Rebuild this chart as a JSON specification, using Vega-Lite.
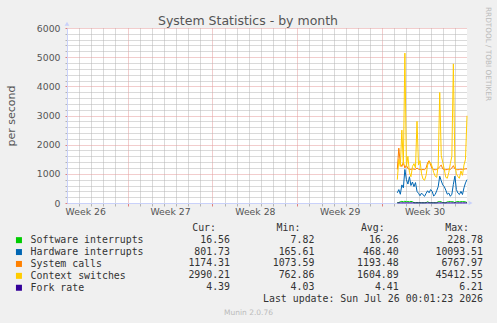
{
  "$schema": "https://vega.github.io/schema/vega-lite/v6.json",
  "width": 400,
  "height": 175,
  "autosize": {"type": "none"},
  "padding": {"left": 67, "top": 28, "right": 30, "bottom": 120},
  "background": "#F0F0F0",
  "title": {
    "text": "System Statistics - by month",
    "font": "DejaVu Sans",
    "fontSize": 12.5,
    "fontWeight": "normal",
    "color": "#555555",
    "anchor": "middle",
    "frame": "group",
    "dx": -19,
    "baseline": "alphabetic",
    "offset": -30.5
  },
  "config": {
    "font": "DejaVu Sans",
    "view": {"fill": "#FFFFFF", "stroke": null}
  },
  "layer": [
    {
      "data": {
        "values": [
          {"d": 22.25, "Software interrupts": 12, "Hardware interrupts": 350, "System calls": 1150, "Context switches": 800, "Fork rate": 4.4},
          {"d": 22.375, "Software interrupts": 15, "Hardware interrupts": 460, "System calls": 1880, "Context switches": 1500, "Fork rate": 4.5},
          {"d": 22.5, "Software interrupts": 45, "Hardware interrupts": 300, "System calls": 1350, "Context switches": 1250, "Fork rate": 4.4},
          {"d": 22.625, "Software interrupts": 55, "Hardware interrupts": 620, "System calls": 1250, "Context switches": 2500, "Fork rate": 4.6},
          {"d": 22.75, "Software interrupts": 40, "Hardware interrupts": 520, "System calls": 1400, "Context switches": 1300, "Fork rate": 4.5},
          {"d": 22.875, "Software interrupts": 60, "Hardware interrupts": 1150, "System calls": 1200, "Context switches": 5140, "Fork rate": 4.8},
          {"d": 23, "Software interrupts": 45, "Hardware interrupts": 800, "System calls": 1300, "Context switches": 1250, "Fork rate": 4.5},
          {"d": 23.125, "Software interrupts": 50, "Hardware interrupts": 650, "System calls": 1180, "Context switches": 1600, "Fork rate": 4.4},
          {"d": 23.25, "Software interrupts": 40, "Hardware interrupts": 900, "System calls": 1160, "Context switches": 1050, "Fork rate": 4.4},
          {"d": 23.375, "Software interrupts": 55, "Hardware interrupts": 600, "System calls": 1150, "Context switches": 900, "Fork rate": 4.3},
          {"d": 23.5, "Software interrupts": 45, "Hardware interrupts": 720, "System calls": 1170, "Context switches": 1250, "Fork rate": 4.4},
          {"d": 23.625, "Software interrupts": 12, "Hardware interrupts": 560, "System calls": 1160, "Context switches": 1350, "Fork rate": 4.3},
          {"d": 23.75, "Software interrupts": 10, "Hardware interrupts": 700, "System calls": 1150, "Context switches": 1200, "Fork rate": 4.3},
          {"d": 23.875, "Software interrupts": 12, "Hardware interrupts": 400, "System calls": 1200, "Context switches": 2800, "Fork rate": 4.5},
          {"d": 24, "Software interrupts": 10, "Hardware interrupts": 330, "System calls": 1160, "Context switches": 1300, "Fork rate": 4.3},
          {"d": 24.125, "Software interrupts": 9, "Hardware interrupts": 250, "System calls": 1150, "Context switches": 1450, "Fork rate": 4.2},
          {"d": 24.25, "Software interrupts": 10, "Hardware interrupts": 340, "System calls": 1140, "Context switches": 1000, "Fork rate": 4.2},
          {"d": 24.375, "Software interrupts": 8, "Hardware interrupts": 280, "System calls": 1150, "Context switches": 820, "Fork rate": 4.1},
          {"d": 24.5, "Software interrupts": 9, "Hardware interrupts": 230, "System calls": 1140, "Context switches": 780, "Fork rate": 4.1},
          {"d": 24.625, "Software interrupts": 12, "Hardware interrupts": 330, "System calls": 1200, "Context switches": 950, "Fork rate": 4.2},
          {"d": 24.75, "Software interrupts": 45, "Hardware interrupts": 420, "System calls": 1380, "Context switches": 1300, "Fork rate": 4.4},
          {"d": 24.875, "Software interrupts": 14, "Hardware interrupts": 350, "System calls": 1450, "Context switches": 1420, "Fork rate": 4.5},
          {"d": 25, "Software interrupts": 10, "Hardware interrupts": 460, "System calls": 1300, "Context switches": 1380, "Fork rate": 4.4},
          {"d": 25.125, "Software interrupts": 9, "Hardware interrupts": 400, "System calls": 1180, "Context switches": 1250, "Fork rate": 4.3},
          {"d": 25.25, "Software interrupts": 10, "Hardware interrupts": 240, "System calls": 1150, "Context switches": 1050, "Fork rate": 4.2},
          {"d": 25.375, "Software interrupts": 8, "Hardware interrupts": 290, "System calls": 1140, "Context switches": 920, "Fork rate": 4.1},
          {"d": 25.5, "Software interrupts": 11, "Hardware interrupts": 420, "System calls": 1150, "Context switches": 880, "Fork rate": 4.2},
          {"d": 25.625, "Software interrupts": 45, "Hardware interrupts": 560, "System calls": 1180, "Context switches": 1300, "Fork rate": 4.4},
          {"d": 25.75, "Software interrupts": 50, "Hardware interrupts": 920, "System calls": 1250, "Context switches": 3790, "Fork rate": 4.6},
          {"d": 25.875, "Software interrupts": 40, "Hardware interrupts": 760, "System calls": 1300, "Context switches": 1630, "Fork rate": 4.5},
          {"d": 26, "Software interrupts": 12, "Hardware interrupts": 620, "System calls": 1170, "Context switches": 1400, "Fork rate": 4.4},
          {"d": 26.125, "Software interrupts": 10, "Hardware interrupts": 560, "System calls": 1150, "Context switches": 1150, "Fork rate": 4.3},
          {"d": 26.25, "Software interrupts": 9, "Hardware interrupts": 440, "System calls": 1140, "Context switches": 880, "Fork rate": 4.2},
          {"d": 26.375, "Software interrupts": 40, "Hardware interrupts": 300, "System calls": 1150, "Context switches": 850, "Fork rate": 4.3},
          {"d": 26.5, "Software interrupts": 45, "Hardware interrupts": 340, "System calls": 1160, "Context switches": 1050, "Fork rate": 4.3},
          {"d": 26.625, "Software interrupts": 50, "Hardware interrupts": 230, "System calls": 1150, "Context switches": 1350, "Fork rate": 4.3},
          {"d": 26.75, "Software interrupts": 45, "Hardware interrupts": 300, "System calls": 1200, "Context switches": 1600, "Fork rate": 4.4},
          {"d": 26.875, "Software interrupts": 40, "Hardware interrupts": 640, "System calls": 1280, "Context switches": 4770, "Fork rate": 4.6},
          {"d": 27, "Software interrupts": 12, "Hardware interrupts": 920, "System calls": 1170, "Context switches": 1350, "Fork rate": 4.5},
          {"d": 27.125, "Software interrupts": 45, "Hardware interrupts": 460, "System calls": 1150, "Context switches": 1000, "Fork rate": 4.4},
          {"d": 27.25, "Software interrupts": 50, "Hardware interrupts": 340, "System calls": 1140, "Context switches": 900, "Fork rate": 4.3},
          {"d": 27.375, "Software interrupts": 40, "Hardware interrupts": 290, "System calls": 1150, "Context switches": 850, "Fork rate": 4.3},
          {"d": 27.5, "Software interrupts": 45, "Hardware interrupts": 400, "System calls": 1160, "Context switches": 1100, "Fork rate": 4.3},
          {"d": 27.625, "Software interrupts": 50, "Hardware interrupts": 290, "System calls": 1150, "Context switches": 950, "Fork rate": 4.3},
          {"d": 27.75, "Software interrupts": 45, "Hardware interrupts": 520, "System calls": 1160, "Context switches": 1300, "Fork rate": 4.4},
          {"d": 27.875, "Software interrupts": 40, "Hardware interrupts": 690, "System calls": 1170, "Context switches": 1500, "Fork rate": 4.4},
          {"d": 28, "Software interrupts": 16.56, "Hardware interrupts": 801.73, "System calls": 1174.31, "Context switches": 2990.21, "Fork rate": 4.39}
        ]
      },
      "transform": [
        {"fold": ["Software interrupts", "Hardware interrupts", "System calls", "Context switches", "Fork rate"], "as": ["series", "value"]}
      ],
      "mark": {"type": "line", "strokeWidth": 1, "clip": false},
      "encoding": {
        "x": {
          "field": "d",
          "type": "quantitative",
          "scale": {"domain": [-5, 28], "nice": false, "zero": false},
          "axis": {
            "values": [-4, -3.5, -3, -2, -1, 0, 1, 2, 3, 3.5, 4, 5, 6, 7, 8, 9, 10, 10.5, 11, 12, 13, 14, 15, 16, 17, 17.5, 18, 19, 20, 21, 22, 23, 24, 24.5, 25, 26, 27],
            "labelExpr": "datum.value % 1 !== 0 ? 'Week ' + (27 + floor(datum.value / 7)) : ''",
            "labelOverlap": false,
            "labelFlush": false,
            "labelBound": false,
            "labelFontSize": 9.3,
            "labelColor": "#555555",
            "labelPadding": 1,
            "tickSize": 3,
            "tickColor": {"condition": {"test": "datum.value % 7 === 0", "value": "#E08080"}, "value": "#B4B4B4"},
            "tickOpacity": {"condition": {"test": "datum.value % 1 !== 0", "value": 0}, "value": 1},
            "grid": true,
            "gridColor": {"condition": {"test": "datum.value % 7 === 0", "value": "#E49A9A"}, "value": "#B4B4B4"},
            "gridOpacity": {"condition": {"test": "datum.value % 1 !== 0", "value": 0}, "value": 1},
            "gridDash": [1, 1],
            "domainColor": "#C9D1FA",
            "title": "Munin 2.0.76",
            "titleFont": "DejaVu Sans",
            "titleFontSize": 7.5,
            "titleFontWeight": "normal",
            "titleColor": "#BBBBBB",
            "titleX": 181,
            "titleY": 109,
            "titleAlign": "center",
            "titleBaseline": "middle"
          }
        },
        "y": {
          "field": "value",
          "type": "quantitative",
          "scale": {"domain": [0, 6000], "nice": false},
          "axis": {
            "values": [0, 200, 400, 600, 800, 1000, 1200, 1400, 1600, 1800, 2000, 2200, 2400, 2600, 2800, 3000, 3200, 3400, 3600, 3800, 4000, 4200, 4400, 4600, 4800, 5000, 5200, 5400, 5600, 5800, 6000],
            "labelExpr": "datum.value % 1000 === 0 ? format(datum.value, 'd') : ''",
            "labelOverlap": false,
            "labelFlush": false,
            "labelBound": false,
            "labelFontSize": 9.3,
            "labelColor": "#555555",
            "labelPadding": 5,
            "tickSize": 2,
            "tickColor": {"condition": {"test": "datum.value % 1000 === 0", "value": "#E08080"}, "value": "#B4B4B4"},
            "grid": true,
            "gridColor": {"condition": {"test": "datum.value % 1000 === 0", "value": "#E49A9A"}, "value": "#B4B4B4"},
            "gridDash": [1, 1],
            "domainColor": "#C9D1FA",
            "title": "per second",
            "titleFont": "DejaVu Sans",
            "titleFontSize": 11,
            "titleFontWeight": "normal",
            "titleColor": "#555555",
            "titleAngle": 270,
            "titleX": -56,
            "titleY": 87.5,
            "titleAlign": "center",
            "titleBaseline": "middle"
          }
        },
        "color": {
          "field": "series",
          "type": "nominal",
          "scale": {
            "domain": ["Software interrupts", "Hardware interrupts", "System calls", "Context switches", "Fork rate"],
            "range": ["#00CC00", "#0066B3", "#FF8000", "#FFCC00", "#330099"]
          },
          "legend": {
            "orient": "none",
            "legendX": -53,
            "legendY": 207.2,
            "title": null,
            "padding": 0,
            "symbolType": "square",
            "symbolSize": 36,
            "labelFont": "DejaVu Sans Mono",
            "labelFontSize": 9.9,
            "labelColor": "#333333",
            "labelOffset": 6.7,
            "rowPadding": 0.9,
            "encode": {
              "symbols": {
                "update": {
                  "fill": {"scale": "color", "field": "value"},
                  "fillOpacity": {"value": 1},
                  "strokeWidth": {"value": 0}
                }
              }
            }
          }
        }
      }
    },
    {
      "data": {"values": [{"marker": "x-axis end"}]},
      "mark": {"type": "point", "shape": "triangle-right", "filled": true, "size": 22, "color": "#C9D1FA", "opacity": 1},
      "encoding": {
        "x": {"datum": 28.29, "type": "quantitative", "scale": {"domain": [-5, 28], "nice": false, "zero": false}, "axis": null},
        "y": {"datum": 0, "type": "quantitative", "scale": {"domain": [0, 6000], "nice": false}, "axis": null}
      }
    },
    {
      "data": {"values": [{"marker": "y-axis end"}]},
      "mark": {"type": "point", "shape": "triangle-up", "filled": true, "size": 22, "color": "#C9D1FA", "opacity": 1},
      "encoding": {
        "x": {"datum": -5, "type": "quantitative", "scale": {"domain": [-5, 28], "nice": false, "zero": false}, "axis": null},
        "y": {"datum": 6148, "type": "quantitative", "scale": {"domain": [0, 6000], "nice": false}, "axis": null}
      }
    },
    {
      "data": {
        "values": [
          {"series": "Software interrupts", "row": 1, "cur": 16.56, "min": 7.82, "avg": 16.26, "max": 228.78},
          {"series": "Hardware interrupts", "row": 2, "cur": 801.73, "min": 165.61, "avg": 468.40, "max": 10093.51},
          {"series": "System calls", "row": 3, "cur": 1174.31, "min": 1073.59, "avg": 1193.48, "max": 6767.97},
          {"series": "Context switches", "row": 4, "cur": 2990.21, "min": 762.86, "avg": 1604.89, "max": 45412.55},
          {"series": "Fork rate", "row": 5, "cur": 4.39, "min": 4.03, "avg": 4.41, "max": 6.21}
        ]
      },
      "transform": [{"fold": ["cur", "min", "avg", "max"], "as": ["stat", "val"]}],
      "mark": {"type": "text", "align": "right", "baseline": "middle", "font": "DejaVu Sans Mono", "fontSize": 9.9, "color": "#333333"},
      "encoding": {
        "x": {
          "field": "stat",
          "type": "nominal",
          "scale": {"type": "point", "domain": ["cur", "min", "avg", "max"], "range": [163, 416], "padding": 0},
          "axis": null
        },
        "y": {
          "field": "row",
          "type": "quantitative",
          "scale": {"domain": [0, 6], "range": [199.7, 271.1], "nice": false, "zero": false},
          "axis": {
            "orient": "right",
            "domain": false,
            "ticks": false,
            "labels": false,
            "grid": false,
            "title": "RRDTOOL / TOBI OETIKER",
            "titleFont": "DejaVu Sans",
            "titleFontSize": 7.3,
            "titleFontWeight": "normal",
            "titleColor": "#BBBBBB",
            "titleAngle": 90,
            "titleX": 20,
            "titleY": 25.5,
            "titleAlign": "center",
            "titleBaseline": "middle"
          }
        },
        "text": {"field": "val", "type": "quantitative", "format": ".2f"}
      }
    },
    {
      "data": {
        "values": [
          {"stat": "cur", "label": "Cur:"},
          {"stat": "min", "label": "Min:"},
          {"stat": "avg", "label": "Avg:"},
          {"stat": "max", "label": "Max:"}
        ]
      },
      "mark": {"type": "text", "align": "right", "baseline": "middle", "font": "DejaVu Sans Mono", "fontSize": 9.9, "color": "#333333", "dx": -14},
      "encoding": {
        "x": {"field": "stat", "type": "nominal", "scale": {"type": "point", "domain": ["cur", "min", "avg", "max"], "range": [163, 416], "padding": 0}, "axis": null},
        "y": {"datum": 0, "type": "quantitative", "scale": {"domain": [0, 6], "range": [199.7, 271.1], "nice": false, "zero": false}, "axis": null},
        "text": {"field": "label", "type": "nominal"}
      }
    },
    {
      "data": {"values": [{"label": "Last update: Sun Jul 26 00:01:23 2026"}]},
      "mark": {"type": "text", "align": "right", "baseline": "middle", "font": "DejaVu Sans Mono", "fontSize": 9.9, "color": "#333333"},
      "encoding": {
        "x": {"datum": "max", "type": "nominal", "scale": {"type": "point", "domain": ["cur", "min", "avg", "max"], "range": [163, 416], "padding": 0}, "axis": null},
        "y": {"datum": 6, "type": "quantitative", "scale": {"domain": [0, 6], "range": [199.7, 271.1], "nice": false, "zero": false}, "axis": null},
        "text": {"field": "label", "type": "nominal"}
      }
    }
  ],
  "resolve": {
    "scale": {"x": "independent", "y": "independent"},
    "axis": {"x": "independent", "y": "independent"}
  }
}
